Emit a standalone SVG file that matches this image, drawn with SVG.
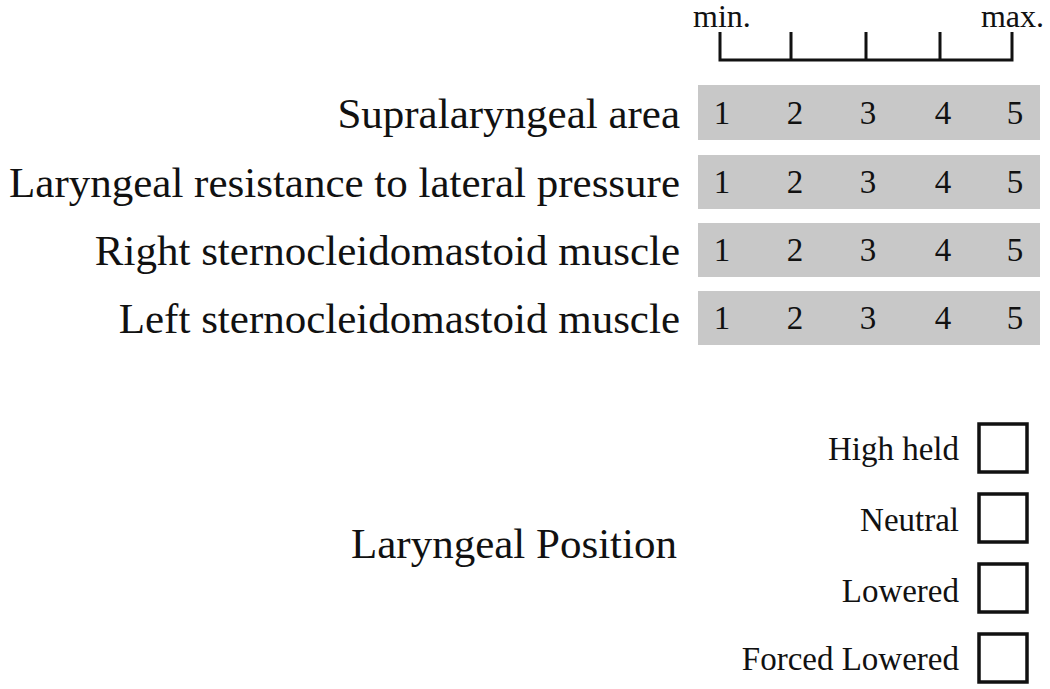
<svg xmlns="http://www.w3.org/2000/svg" width="1050" height="689" viewBox="0 0 1050 689">
<style>
text{font-family:"Liberation Serif","Times New Roman",serif;fill:#111}
.lbl{font-size:43px;text-anchor:end}
.num{font-size:33px;text-anchor:middle}
.opt{font-size:33px;text-anchor:end}
.bar{fill:#c8c8c8}
.box{fill:none;stroke:#111;stroke-width:3.5}
.rule{fill:none;stroke:#111;stroke-width:3}
.sc{font-size:32px}
</style>
<rect width="1050" height="689" fill="#fff"/>
<g id="scale">
<path class="rule" d="M720,32 V60 H1012 V32 M791,32 V60 M866,32 V60 M940,32 V60"/>
<text class="sc" x="693" y="27">min.</text>
<text class="sc" x="1044" y="27" text-anchor="end">max.</text>
</g>
<g id="row1">
<text class="lbl" x="680" y="128">Supralaryngeal area</text>
<rect class="bar" x="698" y="85" width="342" height="55"/>
<text class="num" x="722" y="124">1</text><text class="num" x="795" y="124">2</text><text class="num" x="868" y="124">3</text><text class="num" x="943" y="124">4</text><text class="num" x="1015" y="124">5</text>
</g>
<g id="row2">
<text class="lbl" x="680" y="197">Laryngeal resistance to lateral pressure</text>
<rect class="bar" x="698" y="155" width="342" height="54"/>
<text class="num" x="722" y="193">1</text><text class="num" x="795" y="193">2</text><text class="num" x="868" y="193">3</text><text class="num" x="943" y="193">4</text><text class="num" x="1015" y="193">5</text>
</g>
<g id="row3">
<text class="lbl" x="680" y="265">Right sternocleidomastoid muscle</text>
<rect class="bar" x="698" y="223" width="342" height="54"/>
<text class="num" x="722" y="261">1</text><text class="num" x="795" y="261">2</text><text class="num" x="868" y="261">3</text><text class="num" x="943" y="261">4</text><text class="num" x="1015" y="261">5</text>
</g>
<g id="row4">
<text class="lbl" x="680" y="333">Left sternocleidomastoid muscle</text>
<rect class="bar" x="698" y="291" width="342" height="54"/>
<text class="num" x="722" y="329">1</text><text class="num" x="795" y="329">2</text><text class="num" x="868" y="329">3</text><text class="num" x="943" y="329">4</text><text class="num" x="1015" y="329">5</text>
</g>
<g id="position">
<text class="lbl" x="677" y="558">Laryngeal Position</text>
</g>
<g id="opt-high"><text class="opt" x="959" y="460">High held</text><rect class="box" x="979" y="424" width="48" height="48"/></g>
<g id="opt-neutral"><text class="opt" x="959" y="531">Neutral</text><rect class="box" x="979" y="494" width="48" height="48"/></g>
<g id="opt-lowered"><text class="opt" x="959" y="602">Lowered</text><rect class="box" x="979" y="564" width="48" height="48"/></g>
<g id="opt-forced"><text class="opt" x="959" y="670">Forced Lowered</text><rect class="box" x="979" y="634" width="48" height="48"/></g>
<g id="connectors"/>
</svg>
